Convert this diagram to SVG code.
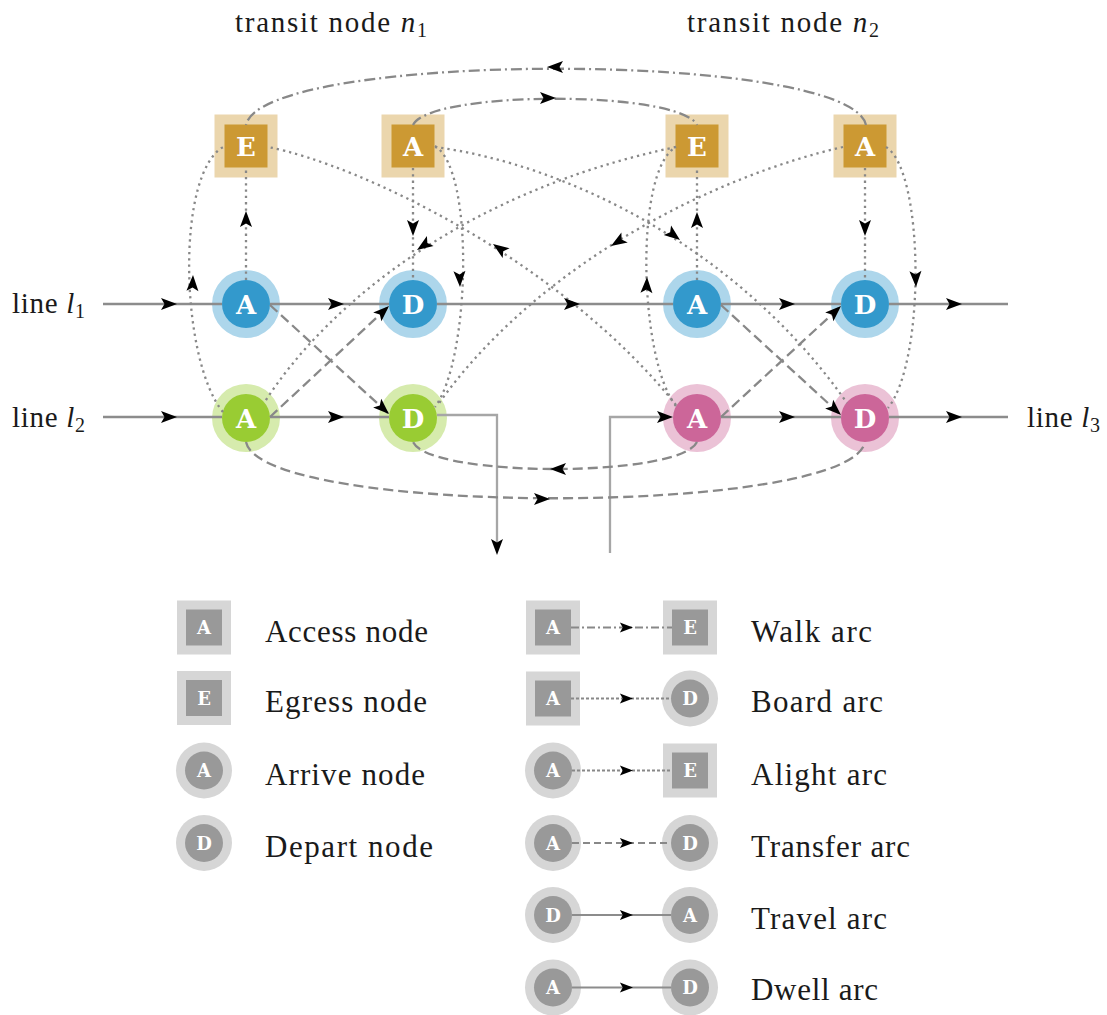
<svg xmlns="http://www.w3.org/2000/svg" width="1107" height="1015" viewBox="0 0 1107 1015">
<defs>
<style>
.txt{font-family:"Liberation Serif","Times New Roman",serif;fill:#1a1a1a}
.hdr{font-size:29px}
.leg{font-size:31px}
.it{font-style:italic}
.sub{font-size:20px}
.ltr{font-family:"DejaVu Serif",serif;font-weight:bold;font-size:26px;fill:#fff;text-anchor:middle}
.lltr{font-family:"DejaVu Serif",serif;font-weight:bold;font-size:18px;fill:#fff;text-anchor:middle}
.gold-o{fill:#ebd6ad}.gold-i{fill:#cc9933}
.blue-o{fill:#add6eb}.blue-i{fill:#3399cc}
.green-o{fill:#d6ebad}.green-i{fill:#99cc33}
.pink-o{fill:#ebc2d6}.pink-i{fill:#cc6699}
.grey-o{fill:#d6d6d6}.grey-i{fill:#999999}
.arc{fill:none;stroke:#888888;stroke-width:2.3}
.travel{stroke:#8c8c8c}
.route{stroke:#a6a6a6}
.transfer{stroke-dasharray:10 5}
.walk{stroke-dasharray:11 4 2 4}
.board{stroke-dasharray:2.3 4}
.small{stroke-width:1.8}
.s-transfer{stroke-dasharray:7 4}
.s-walk{stroke-dasharray:8 3 2 3}
.s-board{stroke-dasharray:3 2}
</style>
<path id="tip" d="M0,0 L-16,-6 L-12.5,0 L-16,6 Z" fill="#000"/>
</defs>

<!-- headings and line names -->
<text class="txt hdr" x="235" y="32" textLength="192">transit node <tspan class="it">n</tspan><tspan class="sub" dy="5">1</tspan></text>
<text class="txt hdr" x="687" y="32" textLength="192">transit node <tspan class="it">n</tspan><tspan class="sub" dy="5">2</tspan></text>
<text class="txt hdr" x="12" y="313" textLength="73">line <tspan class="it">l</tspan><tspan class="sub" dy="5">1</tspan></text>
<text class="txt hdr" x="12" y="427" textLength="73">line <tspan class="it">l</tspan><tspan class="sub" dy="5">2</tspan></text>
<text class="txt hdr" x="1027" y="427" textLength="73">line <tspan class="it">l</tspan><tspan class="sub" dy="5">3</tspan></text>

<!-- station nodes -->
<g id="n1-egress"><rect class="gold-o" x="214.5" y="114.5" width="63" height="63"/><rect class="gold-i" x="224.5" y="124.5" width="43" height="43"/><text class="ltr" x="246" y="155.5">E</text></g>
<g id="n1-access"><rect class="gold-o" x="381.5" y="114.5" width="63" height="63"/><rect class="gold-i" x="391.5" y="124.5" width="43" height="43"/><text class="ltr" x="413" y="155.5">A</text></g>
<g id="n2-egress"><rect class="gold-o" x="665.5" y="114.5" width="63" height="63"/><rect class="gold-i" x="675.5" y="124.5" width="43" height="43"/><text class="ltr" x="697" y="155.5">E</text></g>
<g id="n2-access"><rect class="gold-o" x="833.5" y="114.5" width="63" height="63"/><rect class="gold-i" x="843.5" y="124.5" width="43" height="43"/><text class="ltr" x="865" y="155.5">A</text></g>

<g id="l1-n1-arrive"><circle class="blue-o" cx="246" cy="304" r="34"/><circle class="blue-i" cx="246" cy="304" r="24"/><text class="ltr" x="246" y="313.5">A</text></g>
<g id="l1-n1-depart"><circle class="blue-o" cx="413" cy="304" r="34"/><circle class="blue-i" cx="413" cy="304" r="24"/><text class="ltr" x="413" y="313.5">D</text></g>
<g id="l1-n2-arrive"><circle class="blue-o" cx="697" cy="304" r="34"/><circle class="blue-i" cx="697" cy="304" r="24"/><text class="ltr" x="697" y="313.5">A</text></g>
<g id="l1-n2-depart"><circle class="blue-o" cx="865" cy="304" r="34"/><circle class="blue-i" cx="865" cy="304" r="24"/><text class="ltr" x="865" y="313.5">D</text></g>

<g id="l2-n1-arrive"><circle class="green-o" cx="246" cy="418" r="34"/><circle class="green-i" cx="246" cy="418" r="24"/><text class="ltr" x="246" y="427.5">A</text></g>
<g id="l2-n1-depart"><circle class="green-o" cx="413" cy="418" r="34"/><circle class="green-i" cx="413" cy="418" r="24"/><text class="ltr" x="413" y="427.5">D</text></g>
<g id="l3-n2-arrive"><circle class="pink-o" cx="697" cy="418" r="34"/><circle class="pink-i" cx="697" cy="418" r="24"/><text class="ltr" x="697" y="427.5">A</text></g>
<g id="l3-n2-depart"><circle class="pink-o" cx="865" cy="418" r="34"/><circle class="pink-i" cx="865" cy="418" r="24"/><text class="ltr" x="865" y="427.5">D</text></g>

<!-- arcs -->
<g id="connectors">
  <!-- travel and dwell arcs -->
  <path class="arc travel" d="M103 304H222M270 304H389M437 304H673M721 304H841M889 304H1008"/>
  <path class="arc travel" d="M103 417H222M270 417H389M721 417H841M889 417H1008"/>
  <path class="arc route" d="M437 415H497V548"/>
  <path class="arc route" d="M610 553V417H668"/>

  <!-- transfer arcs -->
  <path class="arc transfer" d="M270 305L389 414"/>
  <path class="arc transfer" d="M270 417L389 306"/>
  <path class="arc transfer" d="M721 305L841 415"/>
  <path class="arc transfer" d="M721 417L841 306"/>
  <path class="arc transfer" d="M697 442C680 478 430 478 413 442"/>
  <path class="arc transfer" d="M246 442C262 517 850 517 865 442"/>

  <!-- walk arcs -->
  <path class="arc walk" d="M866 125C850 50 262 50 246 125"/>
  <path class="arc walk" d="M413 125C430 90 680 90 697 125"/>

  <!-- board and alight arcs -->
  <path class="arc board" d="M246 280V168"/>
  <path class="arc board" d="M413 168V280"/>
  <path class="arc board" d="M697 280V168"/>
  <path class="arc board" d="M865 168V280"/>
  <path class="arc board" d="M223 412C180 360 175 170 225 146"/>
  <path class="arc board" d="M435 146C475 170 470 360 435 407"/>
  <path class="arc board" d="M676 406C639 360 634 170 676 147"/>
  <path class="arc board" d="M886 147C924 170 926 360 888 408"/>
  <path class="arc board" d="M435 147C570 165 740 250 847 403"/>
  <path class="arc board" d="M676 405C560 260 360 165 268 147"/>
  <path class="arc board" d="M843 147C720 175 540 260 437 406"/>
  <path class="arc board" d="M676 147C470 190 330 300 264 403"/>

  <!-- arrowheads -->
  <use href="#tip" transform="translate(177 304)"/>
  <use href="#tip" transform="translate(344 304)"/>
  <use href="#tip" transform="translate(580 304)"/>
  <use href="#tip" transform="translate(795 304)"/>
  <use href="#tip" transform="translate(962 304)"/>
  <use href="#tip" transform="translate(177 417)"/>
  <use href="#tip" transform="translate(344 417)"/>
  <use href="#tip" transform="translate(673 417)"/>
  <use href="#tip" transform="translate(795 417)"/>
  <use href="#tip" transform="translate(962 417)"/>
  <use href="#tip" transform="translate(497 555) rotate(90)"/>

  <use href="#tip" transform="translate(389 414) rotate(42.5)"/>
  <use href="#tip" transform="translate(389 306) rotate(-43)"/>
  <use href="#tip" transform="translate(841 415) rotate(42.5)"/>
  <use href="#tip" transform="translate(841 306) rotate(-43)"/>
  <use href="#tip" transform="translate(550 469) rotate(180)"/>
  <use href="#tip" transform="translate(550 499)"/>

  <use href="#tip" transform="translate(547 67) rotate(180)"/>
  <use href="#tip" transform="translate(556 98)"/>

  <use href="#tip" transform="translate(246 211) rotate(-90)"/>
  <use href="#tip" transform="translate(413 236) rotate(90)"/>
  <use href="#tip" transform="translate(697 212) rotate(-90)"/>
  <use href="#tip" transform="translate(865 236) rotate(90)"/>
  <use href="#tip" transform="translate(193 275) rotate(-88)"/>
  <use href="#tip" transform="translate(460 287) rotate(88)"/>
  <use href="#tip" transform="translate(647 277) rotate(-88)"/>
  <use href="#tip" transform="translate(916 287) rotate(88)"/>
  <use href="#tip" transform="translate(680 240) rotate(38)"/>
  <use href="#tip" transform="translate(493 244) rotate(-145)"/>
  <use href="#tip" transform="translate(611 246) rotate(148)"/>
  <use href="#tip" transform="translate(417 250) rotate(146)"/>
</g>

<!-- key: node types -->
<g id="key-access"><rect class="grey-o" x="177" y="600.5" width="54" height="54"/><rect class="grey-i" x="186" y="609.5" width="36" height="36"/><text class="lltr" x="204" y="634">A</text></g>
<g id="key-egress"><rect class="grey-o" x="177" y="671" width="54" height="54"/><rect class="grey-i" x="186" y="680" width="36" height="36"/><text class="lltr" x="204" y="704.5">E</text></g>
<g id="key-arrive"><circle class="grey-o" cx="204" cy="770.5" r="28"/><circle class="grey-i" cx="204" cy="770.5" r="19"/><text class="lltr" x="204" y="777">A</text></g>
<g id="key-depart"><circle class="grey-o" cx="204" cy="843" r="28"/><circle class="grey-i" cx="204" cy="843" r="19"/><text class="lltr" x="204" y="849.5">D</text></g>
<text class="txt leg" x="265" y="642" textLength="163">Access node</text>
<text class="txt leg" x="265" y="712" textLength="162">Egress node</text>
<text class="txt leg" x="265" y="785" textLength="160">Arrive node</text>
<text class="txt leg" x="265" y="857" textLength="168">Depart node</text>

<!-- key: arc types -->
<g id="key-walk">
  <rect class="grey-o" x="526" y="600.5" width="54" height="54"/><rect class="grey-i" x="535" y="609.5" width="36" height="36"/><text class="lltr" x="553" y="634">A</text>
  <rect class="grey-o" x="663" y="600.5" width="54" height="54"/><rect class="grey-i" x="672" y="609.5" width="36" height="36"/><text class="lltr" x="690" y="634">E</text>
  <path class="arc small s-walk" d="M571 627.5H672"/>
  <use href="#tip" transform="translate(633 627.5) scale(0.82)"/>
</g>
<g id="key-board">
  <rect class="grey-o" x="526" y="671.5" width="54" height="54"/><rect class="grey-i" x="535" y="680.5" width="36" height="36"/><text class="lltr" x="553" y="705">A</text>
  <circle class="grey-o" cx="690" cy="698.5" r="28"/><circle class="grey-i" cx="690" cy="698.5" r="19"/><text class="lltr" x="690" y="705">D</text>
  <path class="arc small s-board" d="M571 698.5H671"/>
  <use href="#tip" transform="translate(633 698.5) scale(0.82)"/>
</g>
<g id="key-alight">
  <circle class="grey-o" cx="553" cy="770.5" r="28"/><circle class="grey-i" cx="553" cy="770.5" r="19"/><text class="lltr" x="553" y="777">A</text>
  <rect class="grey-o" x="663" y="743.5" width="54" height="54"/><rect class="grey-i" x="672" y="752.5" width="36" height="36"/><text class="lltr" x="690" y="777">E</text>
  <path class="arc small s-board" d="M572 770.5H672"/>
  <use href="#tip" transform="translate(633 770.5) scale(0.82)"/>
</g>
<g id="key-transfer">
  <circle class="grey-o" cx="553" cy="843" r="28"/><circle class="grey-i" cx="553" cy="843" r="19"/><text class="lltr" x="553" y="849.5">A</text>
  <circle class="grey-o" cx="690" cy="843" r="28"/><circle class="grey-i" cx="690" cy="843" r="19"/><text class="lltr" x="690" y="849.5">D</text>
  <path class="arc small s-transfer" d="M572 843H671"/>
  <use href="#tip" transform="translate(633 843) scale(0.82)"/>
</g>
<g id="key-travel">
  <circle class="grey-o" cx="553" cy="915" r="28"/><circle class="grey-i" cx="553" cy="915" r="19"/><text class="lltr" x="553" y="921.5">D</text>
  <circle class="grey-o" cx="690" cy="915" r="28"/><circle class="grey-i" cx="690" cy="915" r="19"/><text class="lltr" x="690" y="921.5">A</text>
  <path class="arc small travel" d="M572 915H671"/>
  <use href="#tip" transform="translate(633 915) scale(0.82)"/>
</g>
<g id="key-dwell">
  <circle class="grey-o" cx="553" cy="987.5" r="28"/><circle class="grey-i" cx="553" cy="987.5" r="19"/><text class="lltr" x="553" y="994">A</text>
  <circle class="grey-o" cx="690" cy="987.5" r="28"/><circle class="grey-i" cx="690" cy="987.5" r="19"/><text class="lltr" x="690" y="994">D</text>
  <path class="arc small travel" d="M572 987.5H671"/>
  <use href="#tip" transform="translate(633 987.5) scale(0.82)"/>
</g>
<text class="txt leg" x="751" y="642" textLength="121">Walk arc</text>
<text class="txt leg" x="751" y="712" textLength="132">Board arc</text>
<text class="txt leg" x="751" y="785" textLength="136">Alight arc</text>
<text class="txt leg" x="751" y="857" textLength="159">Transfer arc</text>
<text class="txt leg" x="751" y="929" textLength="136">Travel arc</text>
<text class="txt leg" x="751" y="1000" textLength="127">Dwell arc</text>
</svg>
